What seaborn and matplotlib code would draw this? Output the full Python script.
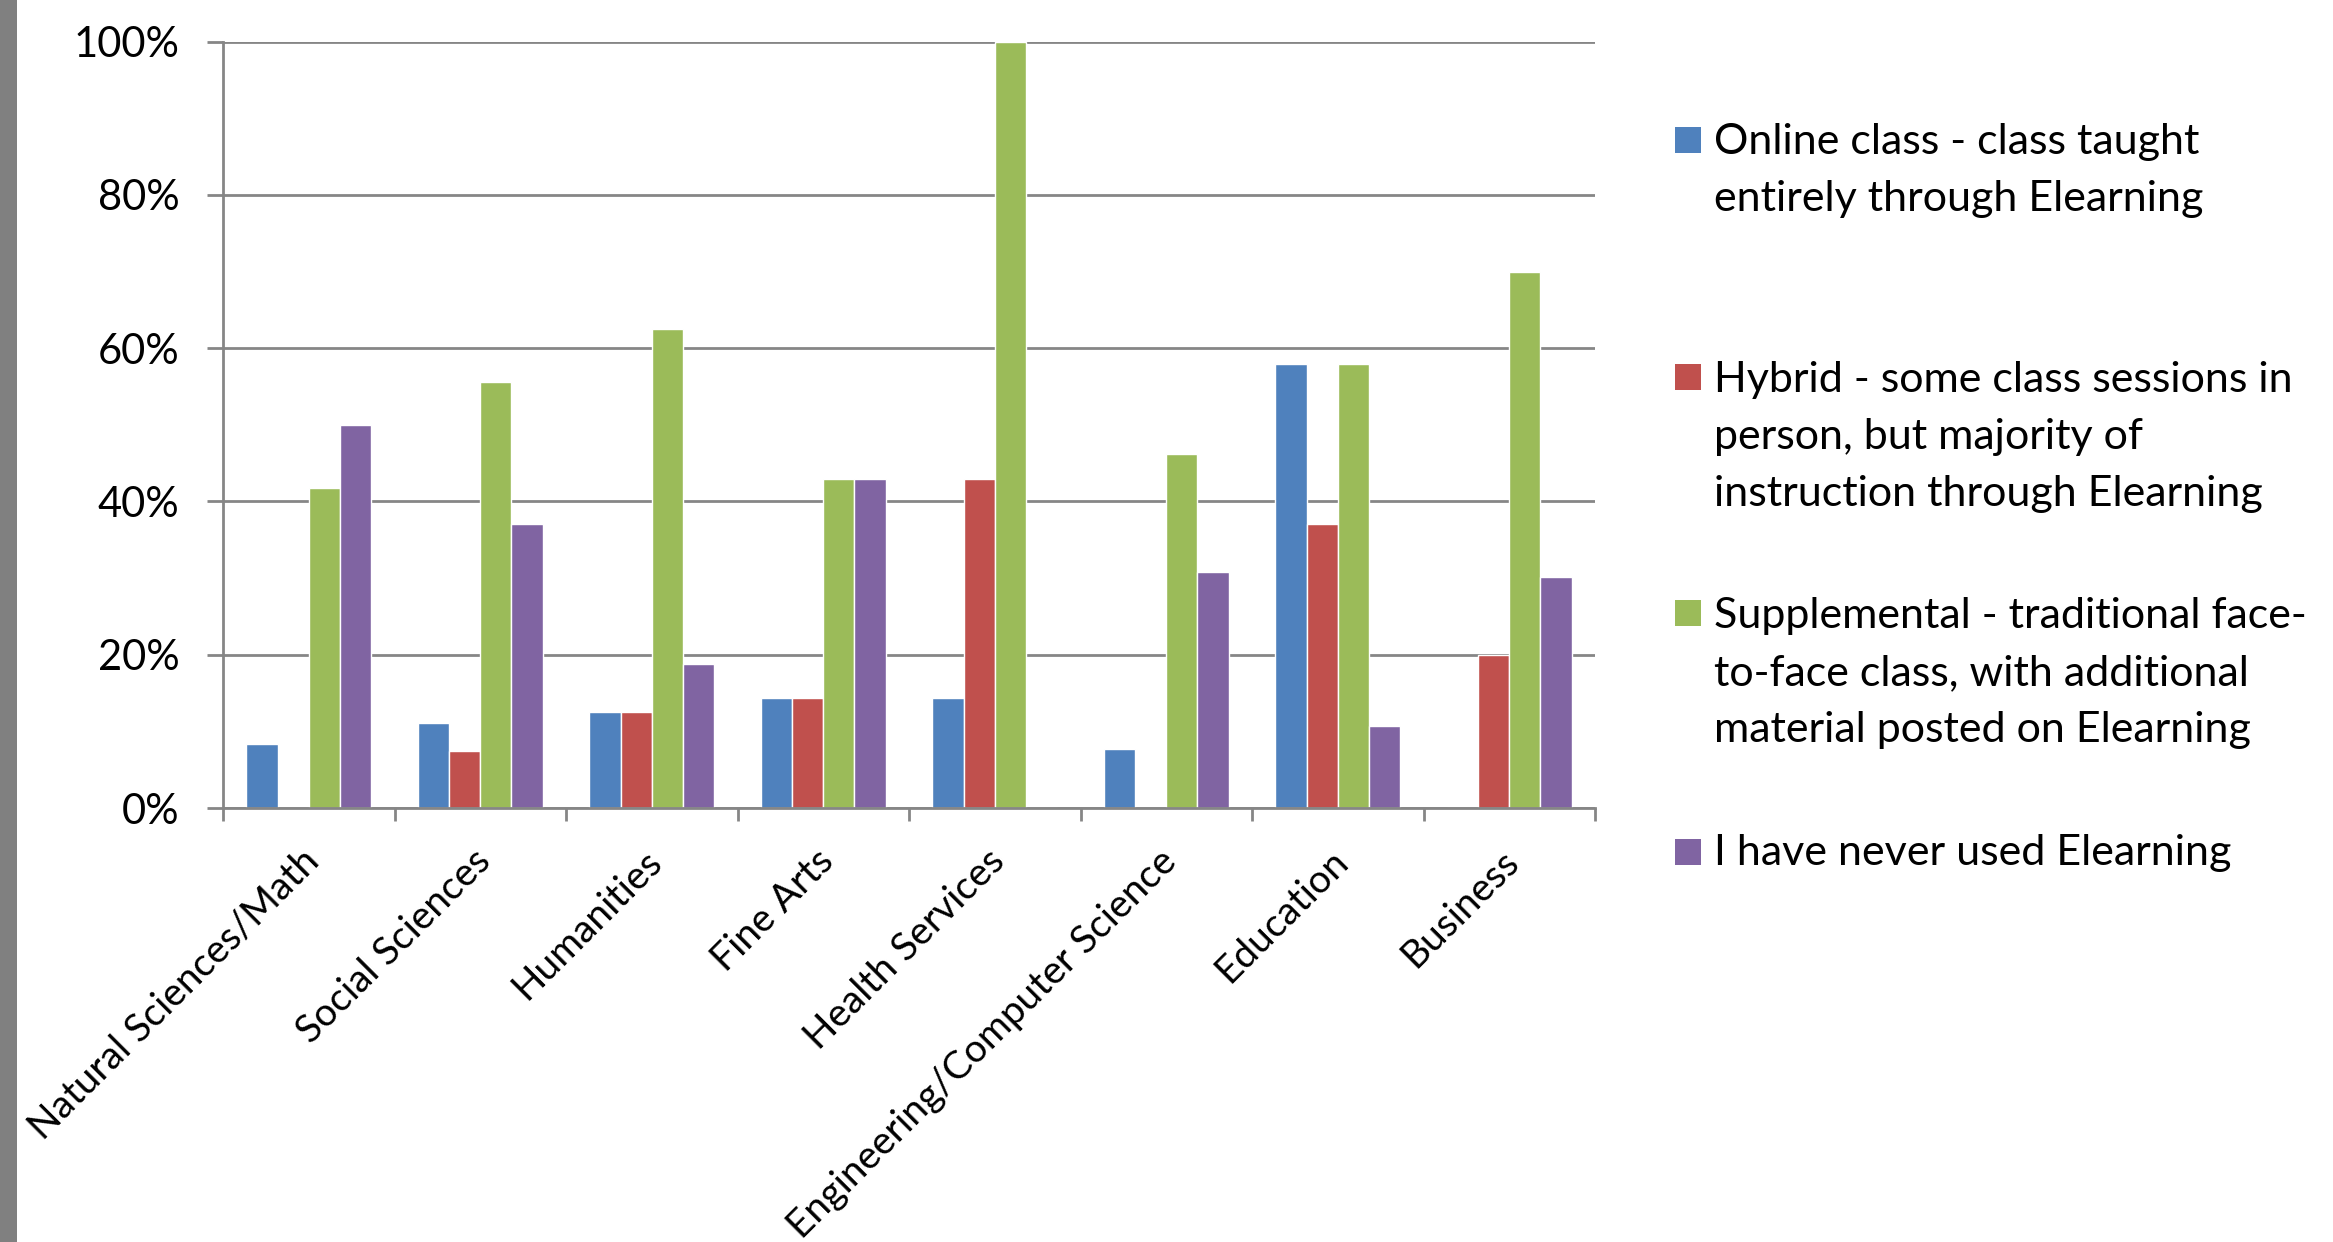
import numpy as np
import pandas as pd
import matplotlib
matplotlib.use("Agg")
import matplotlib.pyplot as plt
import matplotlib.transforms as mtransforms
from matplotlib.patches import Rectangle
from matplotlib.ticker import PercentFormatter
import seaborn as sns

# --- data (percent of respondents) ---
categories = [
    "Natural Sciences/Math", "Social Sciences", "Humanities", "Fine Arts",
    "Health Services", "Engineering/Computer Science", "Education", "Business",
]
series_labels = [
    "Online class - class taught\nentirely through Elearning",
    "Hybrid - some class sessions in\nperson, but majority of\ninstruction through Elearning",
    "Supplemental - traditional face-\nto-face class, with additional\nmaterial posted on Elearning",
    "I have never used Elearning",
]
online = [8.3, 11.1, 12.5, 14.3, 14.3, 7.7, 58.0, 0.0]
hybrid = [0.0, 7.4, 12.5, 14.3, 42.9, 0.0, 37.0, 20.0]
supplemental = [41.7, 55.6, 62.5, 42.9, 100.0, 46.2, 58.0, 70.0]
never_used = [50.0, 37.0, 18.8, 42.9, 0.0, 30.8, 10.7, 30.2]
colors = ["#4F81BD", "#C0504D", "#9BBB59", "#8064A2"]
y_ticks = [0, 20, 40, 60, 80, 100]

df = pd.DataFrame({
    "category": categories * 4,
    "series": np.repeat(series_labels, len(categories)),
    "value": online + hybrid + supplemental + never_used,
})

sns.set_theme(style="white")
plt.rcParams["font.family"] = ["Lato", "DejaVu Sans"]

W, H = 2333, 1242
DPI = 100
fig = plt.figure(figsize=(W / DPI, H / DPI), dpi=DPI)
fig.patch.set_facecolor("white")

# axes box in pixel coordinates of the reference
x0, x1, ytop, ybot = 223, 1595, 41.7, 808
ax = fig.add_axes([x0 / W, 1 - ybot / H, (x1 - x0) / W, (ybot - ytop) / H])

sns.barplot(
    data=df, x="category", y="value", hue="series",
    order=categories, hue_order=series_labels, palette=colors,
    saturation=1, width=0.727, legend=False, ax=ax,
)

grid_col = "#868686"
ax.set_xlim(-0.5, len(categories) - 0.5)
ax.set_ylim(0, 100)
ax.set_yticks(y_ticks)
ax.yaxis.set_major_formatter(PercentFormatter(100, decimals=0))
ax.yaxis.grid(True, color=grid_col, linewidth=2)
ax.set_axisbelow(True)
ax.set_xlabel("")
ax.set_ylabel("")

for side in ["top", "right"]:
    ax.spines[side].set_visible(False)
for side in ["left", "bottom"]:
    ax.spines[side].set_color(grid_col)
    ax.spines[side].set_linewidth(2)

# y ticks
ax.tick_params(axis="y", which="major", left=True, direction="out", length=11.5,
               width=2, color=grid_col, pad=20, labelsize=30, labelcolor="black")

# x: labels at category centres, tick marks at category boundaries
ax.set_xticks(range(len(categories)), categories, rotation=45, ha="right", va="top")
ax.set_xticks(np.arange(-0.5, len(categories)), minor=True)
ax.tick_params(axis="x", which="major", length=0, pad=25, labelsize=28, labelcolor="black")
ax.tick_params(axis="x", which="minor", bottom=True, direction="out", length=9.4,
               width=2, color=grid_col)
shift = mtransforms.ScaledTranslation(17 / DPI, 0, fig.dpi_scale_trans)
for lab in ax.get_xticklabels():
    lab.set_transform(lab.get_transform() + shift)

# left grey strip
fig.patches.append(Rectangle((0, 0), 17 / W, 1, transform=fig.transFigure,
                             facecolor="#808080", edgecolor="none"))

# legend, laid out like the original (marker on the first line)
baselines = [153, 390, 626, 865]
line_step = 58
for lab, col, base in zip(series_labels, colors, baselines):
    fig.patches.append(Rectangle((1675 / W, 1 - base / H), 26 / W, 26 / H,
                                 transform=fig.transFigure, facecolor=col,
                                 edgecolor="none"))
    last_base = base + line_step * lab.count("\n")
    fig.text(1714 / W, 1 - last_base / H, lab, ha="left", va="baseline",
             fontsize=31, linespacing=1.61, color="black")

fig.savefig("out.png", dpi=DPI, facecolor="white")
